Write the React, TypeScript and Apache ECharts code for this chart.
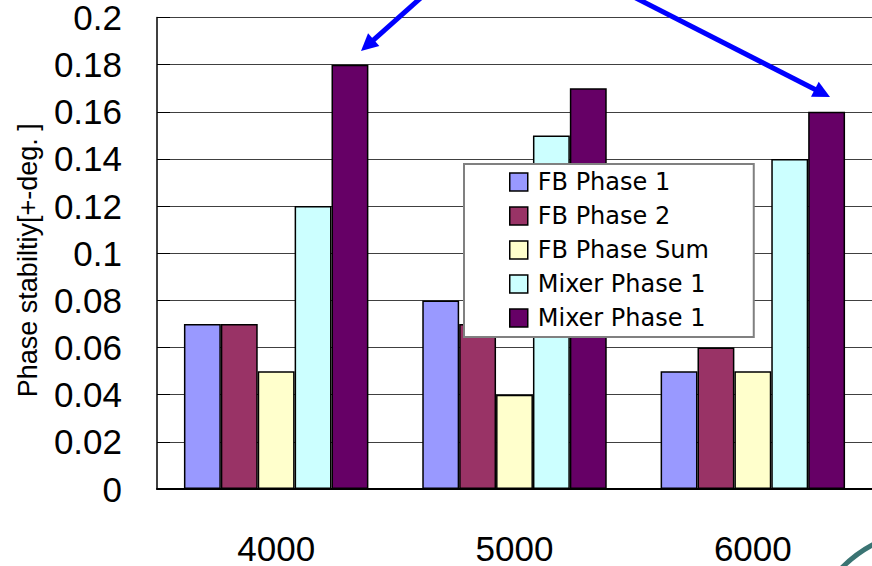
import React, { useEffect, useRef } from "react";
import * as echarts from "echarts";

// Frequency groups on the category axis
const categories = ["4000", "5000", "6000"];

// Phase stability per measurement
const fbPhase1 = [0.07, 0.08, 0.05];
const fbPhase2 = [0.07, 0.07, 0.06];
const fbPhaseSum = [0.05, 0.04, 0.05];
const mixerPhase1 = [0.12, 0.15, 0.14];
const mixerPhase1b = [0.18, 0.17, 0.16];

// Series names (the last two carry the same visible label)
const seriesNames = ["FB Phase 1", "FB Phase 2", "FB Phase Sum", "Mixer Phase 1", "Mixer Phase 1#2"];
const seriesColors = ["#9999FF", "#993366", "#FFFFCC", "#CCFFFF", "#660066"];
const seriesValues = [fbPhase1, fbPhase2, fbPhaseSum, mixerPhase1, mixerPhase1b];

const yMin = 0;
const yMax = 0.2;
const yStep = 0.02;

const LABEL_FONT = "'Liberation Sans', Arial, sans-serif";

// Blue call-out arrow built from a shaft and a triangular head
function arrow(x0: number, y0: number, tx: number, ty: number) {
  const dx = tx - x0;
  const dy = ty - y0;
  const len = Math.hypot(dx, dy);
  const ux = dx / len;
  const uy = dy / len;
  const headLen = 17;
  const headHalf = 8.5;
  const bx = tx - ux * headLen;
  const by = ty - uy * headLen;
  const px = -uy * headHalf;
  const py = ux * headHalf;
  return [
    {
      type: "polyline",
      z: 20,
      shape: { points: [[x0, y0], [bx + ux * 2, by + uy * 2]] },
      style: { stroke: "#0000FF", lineWidth: 5, fill: null },
    },
    {
      type: "polygon",
      z: 20,
      shape: { points: [[tx, ty], [bx + px, by + py], [bx - px, by - py]] },
      style: { fill: "#0000FF", stroke: null },
    },
  ];
}

export default function App() {
  const ref = useRef<HTMLDivElement>(null);

  useEffect(() => {
    if (!ref.current) return;
    const chart = echarts.init(ref.current, null, { renderer: "svg" });

    const option: any = {
      animation: false,
      backgroundColor: "#FFFFFF",
      grid: { left: 157, right: -3, top: 17, bottom: 73, containLabel: false },
      legend: {
        orient: "vertical",
        left: 464,
        top: 164,
        padding: [6, 45, 7, 45],
        itemWidth: 18,
        itemHeight: 18,
        itemGap: 10,
        backgroundColor: "#FFFFFF",
        borderColor: "#808080",
        borderWidth: 2,
        borderRadius: 0,
        icon: "rect",
        data: seriesNames,
        formatter: (name: string) => name.split("#")[0],
        itemStyle: { borderColor: "#000000", borderWidth: 1.5 },
        textStyle: {
          fontFamily: "'DejaVu Sans', sans-serif",
          fontSize: 24,
          color: "#000000",
          padding: [0, 0, 0, 5],
        },
        z: 10,
      },
      xAxis: {
        type: "category",
        data: categories,
        axisLine: { lineStyle: { color: "#000000", width: 2 } },
        axisTick: { inside: true, length: 13, lineStyle: { color: "#808080", width: 1.5 } },
        axisLabel: {
          margin: 42,
          fontFamily: LABEL_FONT,
          fontSize: 35,
          color: "#000000",
        },
        splitLine: { show: false },
      },
      yAxis: {
        type: "value",
        min: yMin,
        max: yMax,
        interval: yStep,
        name: "Phase stabiltiy[+-deg. ]",
        nameLocation: "middle",
        nameRotate: 90,
        nameGap: 116,
        nameTextStyle: {
          fontFamily: LABEL_FONT,
          fontSize: 27,
          color: "#000000",
          padding: [0, 14, 0, 0],
        },
        axisLine: { show: true, lineStyle: { color: "#000000", width: 1.5 } },
        axisTick: { show: true, inside: true, length: 13, lineStyle: { color: "#000000" } },
        axisLabel: {
          margin: 35,
          fontFamily: LABEL_FONT,
          fontSize: 35,
          color: "#000000",
          formatter: (v: number) => String(parseFloat(v.toFixed(2))),
        },
        splitLine: { show: true, lineStyle: { color: "#404040", width: 1 } },
      },
      series: seriesNames.map((name, i) => ({
        name,
        type: "bar",
        data: seriesValues[i],
        barGap: "0%",
        barCategoryGap: "22.6%",
        itemStyle: { color: seriesColors[i], borderColor: "#000000", borderWidth: 1.5 },
      })),
      graphic: [
        ...arrow(424, -5, 361, 51),
        ...arrow(630, -5, 830, 97),
        {
          type: "arc",
          z: 20,
          shape: {
            cx: 935,
            cy: 660,
            r: 131,
            startAngle: (215 * Math.PI) / 180,
            endAngle: (250 * Math.PI) / 180,
            clockwise: true,
          },
          style: { stroke: "#3A7473", lineWidth: 5, fill: null },
        },
      ],
    };

    chart.setOption(option);
    return () => chart.dispose();
  }, []);

  return (
    <div
      ref={ref}
      style={{ position: "fixed", left: 0, top: 0, width: 872, height: 566, overflow: "hidden" }}
    />
  );
}
